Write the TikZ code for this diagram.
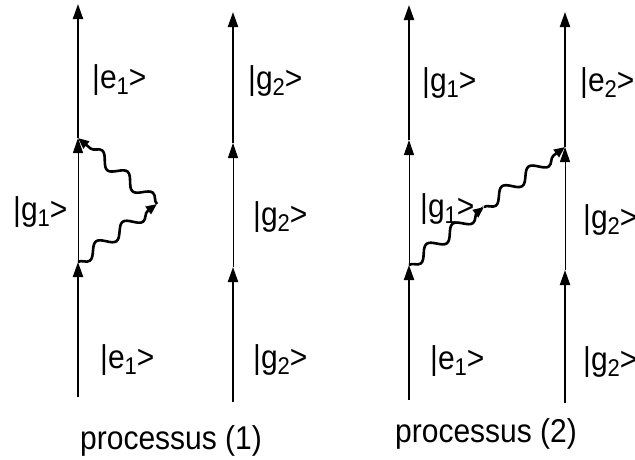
\documentclass[tikz,border=0pt]{standalone}
\usepackage{fontspec}
\setmainfont{Liberation Sans}
\usetikzlibrary{arrows.meta,decorations.pathmorphing}
\newcommand\myket[2]{|#1\raisebox{-0.2em}{\fontsize{22}{22}\selectfont #2}>}
\begin{document}
\begin{tikzpicture}[x=1pt,y=-1pt,
  thickln/.style={line width=2.1pt,-{Triangle[length=15pt,width=10pt]}},
  thinln/.style={line width=1pt,-{Triangle[length=15pt,width=10pt]}},
  wave/.style={line width=2.6pt,-{Triangle[length=11pt,width=9pt]},
    decorate,decoration={snake,segment length=33pt,amplitude=6pt,mirror,post length=4pt}},
  lbl/.style={anchor=base west,inner sep=0pt,font=\fontsize{30}{36}\selectfont},
  captxt/.style={anchor=base west,inner sep=0pt,font=\fontsize{30}{36}\selectfont}]
\useasboundingbox (0,0) rectangle (635,459);
\clip (0,0) rectangle (635,459);
% vertices
\coordinate (a0) at (78,397); \coordinate (a1) at (78,262); \coordinate (a2) at (78,138); \coordinate (a3) at (78,4);
\coordinate (b0) at (233,402); \coordinate (b1) at (233,267); \coordinate (b2) at (233,143); \coordinate (b3) at (233,12);
\coordinate (c0) at (409,400); \coordinate (c1) at (409,265); \coordinate (c2) at (409,140); \coordinate (c3) at (409,5);
\coordinate (d0) at (565,403); \coordinate (d1) at (565,270); \coordinate (d2) at (565,147); \coordinate (d3) at (565,12);
\coordinate (p1) at (157,204);
\coordinate (p2) at (484,207);
% lines
\foreach \l in {a,b,c,d}{
  \draw[thickln] (\l0) -- (\l1);
  \draw[thinln] (\l1) -- (\l2);
  \draw[thickln] (\l2) -- (\l3);
}
% photons
\draw[wave] (a1) -- (p1);
\draw[wave] (p1) -- (a2);
\draw[wave] (c1) -- (p2);
\draw[wave] (p2) -- (d2);
% labels process 1
\node[lbl] (l1) at (92,88) {\scalebox{1}[1.1]{\myket{e}{1}}};
\node[lbl] (l2) at (13,220) {\scalebox{1}[1.1]{\myket{g}{1}}};
\node[lbl] (l3) at (100,368) {\scalebox{1}[1.1]{\myket{e}{1}}};
\node[lbl] (l4) at (248,89) {\scalebox{1}[1.1]{\myket{g}{2}}};
\node[lbl] (l5) at (253,225) {\scalebox{1}[1.1]{\myket{g}{2}}};
\node[lbl] (l6) at (253,368) {\scalebox{1}[1.1]{\myket{g}{2}}};
\node[captxt] (t1) at (80,449) {\scalebox{1}[1.1]{processus (1)}};
% labels process 2
\node[lbl] (m1) at (422,91) {\scalebox{1}[1.1]{\myket{g}{1}}};
\node[lbl] (m2) at (580,91) {\scalebox{1}[1.1]{\myket{e}{2}}};
\node[lbl] (m3) at (420,217) {\scalebox{1}[1.1]{\myket{g}{1}}};
\node[lbl] (m4) at (583,228) {\scalebox{1}[1.1]{\myket{g}{2}}};
\node[lbl] (m5) at (430,369) {\scalebox{1}[1.1]{\myket{e}{1}}};
\node[lbl] (m6) at (583,370) {\scalebox{1}[1.1]{\myket{g}{2}}};
\node[captxt] (t2) at (395,442) {\scalebox{1}[1.1]{processus (2)}};
\end{tikzpicture}
\end{document}
